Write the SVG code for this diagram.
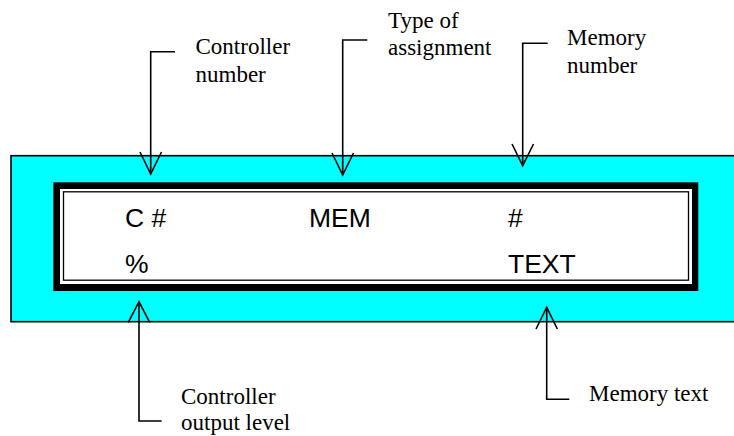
<svg xmlns="http://www.w3.org/2000/svg" width="734" height="436" viewBox="0 0 734 436">
<style>
.lbl{font-family:"Liberation Serif","Times New Roman",serif;font-size:23px;fill:#000}
.lcd{font-family:"Liberation Sans",Arial,sans-serif;font-size:26.5px;fill:#000}
.conn line,.conn polyline{stroke:#000;stroke-width:1.6;fill:none}
</style>
<g id="panel">
<rect x="11" y="155.7" width="730" height="166" fill="#00ffff" stroke="#000" stroke-width="1.6"/>
<rect x="53.3" y="182.3" width="645" height="108.7" fill="#000"/>
<rect x="60" y="189" width="632" height="95" fill="#fff"/>
<rect x="63.5" y="191.8" width="625" height="88.4" fill="#fff" stroke="#000" stroke-width="1.3"/>
</g>
<g id="display-text">
<text class="lcd" x="125" y="226.5">C #</text>
<text class="lcd" x="309" y="226.5">MEM</text>
<text class="lcd" x="508" y="226.5">#</text>
<text class="lcd" x="125" y="273">%</text>
<text class="lcd" x="508" y="273">TEXT</text>
</g>
<g id="label-controller-number">
<text class="lbl" x="195.5" y="53.5">Controller</text>
<text class="lbl" x="195.5" y="81.5">number</text>
</g>
<g id="label-type-of-assignment">
<text class="lbl" x="388" y="28">Type of</text>
<text class="lbl" x="388" y="55">assignment</text>
</g>
<g id="label-memory-number">
<text class="lbl" x="567" y="45">Memory</text>
<text class="lbl" x="567" y="73">number</text>
</g>
<g id="label-controller-output-level">
<text class="lbl" x="181" y="404">Controller</text>
<text class="lbl" x="181" y="430">output level</text>
</g>
<g id="label-memory-text">
<text class="lbl" x="589" y="401">Memory text</text>
</g>
<g class="conn" id="connectors">
<polyline points="175,51.7 150.7,51.7 150.7,174"/>
<polyline points="140,152 150.7,174 161.5,152"/>
<polyline points="367.3,40 342.7,40 342.7,175"/>
<polyline points="332,153 342.7,175 353.5,153"/>
<polyline points="547.7,43.3 522.7,43.3 522.7,165.7"/>
<polyline points="512,144 522.7,165.7 533.5,144"/>
<polyline points="161.7,421 139,421 139,301.7"/>
<polyline points="128.3,322.3 139,301.7 149.7,322.3"/>
<polyline points="569.3,399.3 546.7,399.3 546.7,307.3"/>
<polyline points="536,329 546.7,307.3 557.4,329"/>
</g>
</svg>
